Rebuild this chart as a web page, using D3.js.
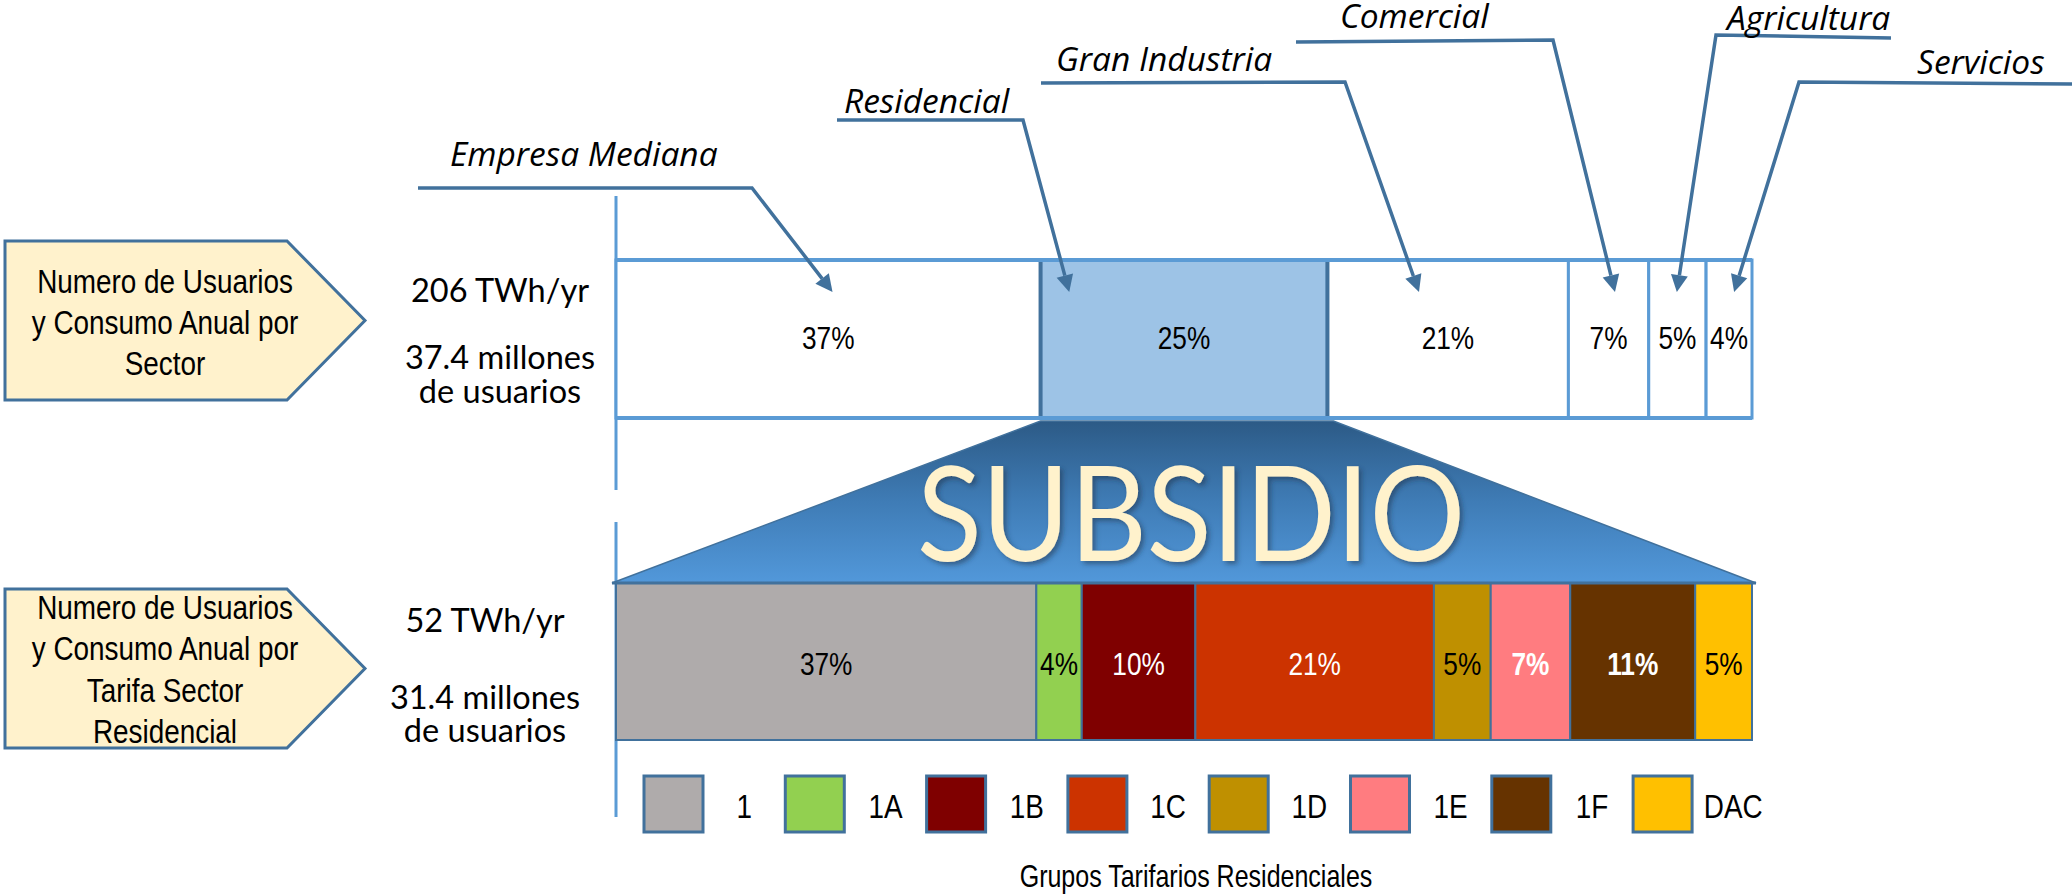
<!DOCTYPE html>
<html>
<head>
<meta charset="utf-8">
<script src="https://cdn.jsdelivr.net/npm/d3@7"></script>
<style>
  html, body { margin: 0; padding: 0; background: #ffffff; }
  svg { display: block; }
</style>
</head>
<body>
<svg id="chart" width="2072" height="895"></svg>
<script>
// ---- Data -------------------------------------------------------------
const sectors = ["Empresa Mediana", "Residencial", "Gran Industria", "Comercial", "Agricultura", "Servicios"];
const sectorShare = [37, 25, 21, 7, 5, 4];          // % of 206 TWh/yr
const subsidizedSector = "Residencial";

const tariffGroups = ["1", "1A", "1B", "1C", "1D", "1E", "1F", "DAC"];
const tariffShare = [37, 4, 10, 21, 5, 7, 11, 5];   // % of 52 TWh/yr

const sectorSummary = ["206 TWh/yr", "37.4 millones", "de usuarios"];
const tariffSummary = ["52 TWh/yr", "31.4 millones", "de usuarios"];
const sectorBoxLines = ["Numero de Usuarios", "y Consumo Anual por", "Sector"];
const tariffBoxLines = ["Numero de Usuarios", "y Consumo Anual por", "Tarifa Sector", "Residencial"];
const legendTitle = "Grupos Tarifarios Residenciales";
const bridgeLabel = "SUBSIDIO";

// ---- Styles -----------------------------------------------------------
const tariffColors = ["#AFABAB", "#92D050", "#7F0000", "#CC3300", "#BF9000", "#FF7C80", "#663300", "#FFC000"];
const tariffLabelColors = ["#000", "#000", "#fff", "#fff", "#000", "#fff", "#fff", "#000"];
const tariffLabelBold = [false, false, false, false, false, true, true, false];
const lightBlue = "#5B9BD5";
const darkBlue = "#41719C";
const narrow = "'Liberation Sans', Arial, sans-serif";
const humanist = "Lato, 'Open Sans', sans-serif";
const italicFace = "'Open Sans', Lato, sans-serif";

const svg = d3.select("#chart");
const W = 2072, H = 895;
svg.append("rect").attr("width", W).attr("height", H).attr("fill", "#fff");

// ---- Scales -----------------------------------------------------------
const barLeft = 616, barRight = 1752;
const xTop = d3.scaleLinear().domain([0, d3.sum(sectorShare)]).range([barLeft, barRight]);
const xBot = d3.scaleLinear().domain([0, d3.sum(tariffShare)]).range([barLeft, barRight]);
const topBar = { y0: 260, y1: 418 };
const botBar = { y0: 583, y1: 740 };

function stack(values, names) {
  let acc = 0;
  return values.map((v, i) => { const d = { name: names[i], value: v, start: acc, i }; acc += v; return d; });
}
const topData = stack(sectorShare, sectors);
const botData = stack(tariffShare, tariffGroups);

// Condensed text (Arial Narrow look): regular sans compressed to 82% of its natural advance
function narrowText(sel, x, y, txt, size, opts = {}) {
  const t = sel.append("text")
    .attr("x", x).attr("y", y)
    .attr("text-anchor", opts.anchor || "middle")
    .attr("font-family", narrow)
    .attr("font-size", size)
    .attr("font-weight", opts.bold ? "bold" : "normal")
    .attr("fill", opts.fill || "#000")
    .text(txt);
  const len = t.node().getComputedTextLength();
  t.attr("textLength", (len * 0.82).toFixed(2)).attr("lengthAdjust", "spacingAndGlyphs");
  return t;
}

// ---- Left guide lines -------------------------------------------------
svg.append("line").attr("x1", barLeft).attr("x2", barLeft).attr("y1", 196).attr("y2", 490)
  .attr("stroke", lightBlue).attr("stroke-width", 3);
svg.append("line").attr("x1", barLeft).attr("x2", barLeft).attr("y1", 522).attr("y2", 817)
  .attr("stroke", lightBlue).attr("stroke-width", 3);

// ---- Callout boxes ----------------------------------------------------
function callout(y0, y1, lines, baseline0, step) {
  const ym = (y0 + y1) / 2;
  svg.append("path")
    .attr("d", `M5,${y0} L287,${y0} L365,${ym} L287,${y1} L5,${y1} Z`)
    .attr("fill", "#FFF2CC").attr("stroke", darkBlue).attr("stroke-width", 3);
  lines.forEach((t, i) => narrowText(svg, 165, baseline0 + i * step, t, 34));
}
callout(241, 400, sectorBoxLines, 293, 41);
callout(589, 748, tariffBoxLines, 619, 41.3);

// ---- Summary figures --------------------------------------------------
function summary(cx, ys, lines) {
  lines.forEach((t, i) => svg.append("text")
    .attr("x", cx).attr("y", ys[i]).attr("text-anchor", "middle")
    .attr("font-family", humanist).attr("font-size", 32.5).attr("fill", "#000").text(t));
}
summary(500, [302, 369, 403], sectorSummary);
summary(485, [632, 709, 742], tariffSummary);

// ---- Bridge (subsidy trapezoid) ---------------------------------------
const defs = svg.append("defs");
const grad = defs.append("linearGradient").attr("id", "bridgeGrad")
  .attr("x1", 0).attr("y1", 0).attr("x2", 0).attr("y2", 1);
grad.append("stop").attr("offset", "0%").attr("stop-color", "#2C5A86");
grad.append("stop").attr("offset", "50%").attr("stop-color", "#3F7CB6");
grad.append("stop").attr("offset", "100%").attr("stop-color", "#5298DA");
const shadow = defs.append("filter").attr("id", "txtShadow")
  .attr("x", "-10%").attr("y", "-10%").attr("width", "130%").attr("height", "130%");
shadow.append("feDropShadow").attr("dx", 3).attr("dy", 3).attr("stdDeviation", 2.5)
  .attr("flood-color", "#1b3550").attr("flood-opacity", 0.55);

const res = topData.find(d => d.name === subsidizedSector);
const bridgeTop = topBar.y1 + 3;
svg.append("path")
  .attr("d", `M${xTop(res.start)},${bridgeTop} L${xTop(res.start + res.value) + 6},${bridgeTop}
              L${xBot(d3.sum(tariffShare)) + 4},${botBar.y0} L${xBot(0) - 4},${botBar.y0} Z`)
  .attr("fill", "url(#bridgeGrad)").attr("stroke", darkBlue).attr("stroke-width", 1.5);

svg.append("text")
  .attr("x", 1191).attr("y", 561).attr("text-anchor", "middle")
  .attr("font-family", humanist).attr("font-size", 131)
  .attr("textLength", 548).attr("lengthAdjust", "spacingAndGlyphs")
  .attr("fill", "#FFF2CC").attr("filter", "url(#txtShadow)")
  .text(bridgeLabel);

// ---- Sector bar (top) -------------------------------------------------
const gTop = svg.append("g");
gTop.selectAll("rect").data(topData).join("rect")
  .attr("x", d => xTop(d.start)).attr("y", topBar.y0)
  .attr("width", d => xTop(d.start + d.value) - xTop(d.start))
  .attr("height", topBar.y1 - topBar.y0)
  .attr("fill", d => d.name === subsidizedSector ? "#9DC3E6" : "#fff")
  .attr("stroke", lightBlue).attr("stroke-width", 3);
// darker side edges on the subsidised sector
[res.start, res.start + res.value].forEach(v => gTop.append("line")
  .attr("x1", xTop(v)).attr("x2", xTop(v)).attr("y1", topBar.y0 + 2).attr("y2", topBar.y1 - 1)
  .attr("stroke", darkBlue).attr("stroke-width", 4));
// heavier outer top and bottom edges
[topBar.y0, topBar.y1].forEach(y => gTop.append("line")
  .attr("x1", barLeft).attr("x2", barRight).attr("y1", y).attr("y2", y)
  .attr("stroke", lightBlue).attr("stroke-width", 4));
topData.forEach(d => narrowText(gTop, xTop(d.start + d.value / 2), 349, d.value + "%", 32));

// ---- Tariff bar (bottom) ----------------------------------------------
const gBot = svg.append("g");
gBot.selectAll("rect").data(botData).join("rect")
  .attr("x", d => xBot(d.start)).attr("y", botBar.y0)
  .attr("width", d => xBot(d.start + d.value) - xBot(d.start))
  .attr("height", botBar.y1 - botBar.y0)
  .attr("fill", d => tariffColors[d.i])
  .attr("stroke", darkBlue).attr("stroke-width", 2);
gBot.append("line").attr("x1", barLeft - 4).attr("x2", barRight + 4)
  .attr("y1", botBar.y0).attr("y2", botBar.y0).attr("stroke", darkBlue).attr("stroke-width", 3);
botData.forEach(d => narrowText(gBot, xBot(d.start + d.value / 2), 675, d.value + "%", 32,
  { fill: tariffLabelColors[d.i], bold: tariffLabelBold[d.i] }));

// ---- Legend -----------------------------------------------------------
const legendStep = 141.3;
const lx = d3.scaleBand().domain(tariffGroups).range([644, 644 + legendStep * tariffGroups.length]);
const sw = 59, sh = 56, ly = 776;
const gLeg = svg.append("g");
tariffGroups.forEach((t, i) => {
  gLeg.append("rect").attr("x", lx(t)).attr("y", ly).attr("width", sw).attr("height", sh)
    .attr("fill", tariffColors[i]).attr("stroke", darkBlue).attr("stroke-width", 3);
  narrowText(gLeg, lx(t) + sw + (lx.step() - sw) / 2, 818, t, 34);
});
narrowText(svg, 1196, 887, legendTitle, 30.5);

// ---- Sector annotations with leader arrows ----------------------------
// label anchor (start x, baseline), elbow of the leader, and where the arrow lands inside its segment
const annotations = [
  { name: "Empresa Mediana", tx: 450,  ty: 166, path: [[418, 188], [752, 188]],  frac: 0.51 },
  { name: "Residencial",     tx: 844,  ty: 113, path: [[837, 120], [1023, 120]], frac: 0.10 },
  { name: "Gran Industria",  tx: 1056, ty: 71,  path: [[1041, 83], [1345, 82]],  frac: 0.38 },
  { name: "Comercial",       tx: 1340, ty: 28,  path: [[1296, 42], [1553, 40]],  frac: 0.58 },
  { name: "Agricultura",     tx: 1727, ty: 30,  path: [[1891, 38], [1716, 35]],  frac: 0.49 },
  { name: "Servicios",       tx: 1917, ty: 74,  path: [[2072, 84], [1799, 82]],  frac: 0.61 }
];
const gAnn = svg.append("g");
annotations.forEach(a => {
  const seg = topData.find(d => d.name === a.name);
  const tip = [xTop(seg.start + seg.value * a.frac), topBar.y0 + 32];
  const elbow = a.path[a.path.length - 1];
  const dx = tip[0] - elbow[0], dy = tip[1] - elbow[1];
  const len = Math.hypot(dx, dy), ux = dx / len, uy = dy / len;
  const headL = 17, headW = 8.5;
  const base = [tip[0] - ux * headL, tip[1] - uy * headL];
  gAnn.append("path")
    .attr("d", d3.line()([...a.path, base]))
    .attr("fill", "none").attr("stroke", darkBlue).attr("stroke-width", 3.5)
    .attr("stroke-linejoin", "miter");
  gAnn.append("path")
    .attr("d", `M${tip[0]},${tip[1]} L${base[0] - uy * headW},${base[1] + ux * headW} L${base[0] + uy * headW},${base[1] - ux * headW} Z`)
    .attr("fill", darkBlue);
  gAnn.append("text")
    .attr("x", a.tx).attr("y", a.ty)
    .attr("font-family", italicFace).attr("font-style", "italic").attr("font-size", 33.5)
    .attr("fill", "#000").text(a.name);
});
</script>
</body>
</html>
